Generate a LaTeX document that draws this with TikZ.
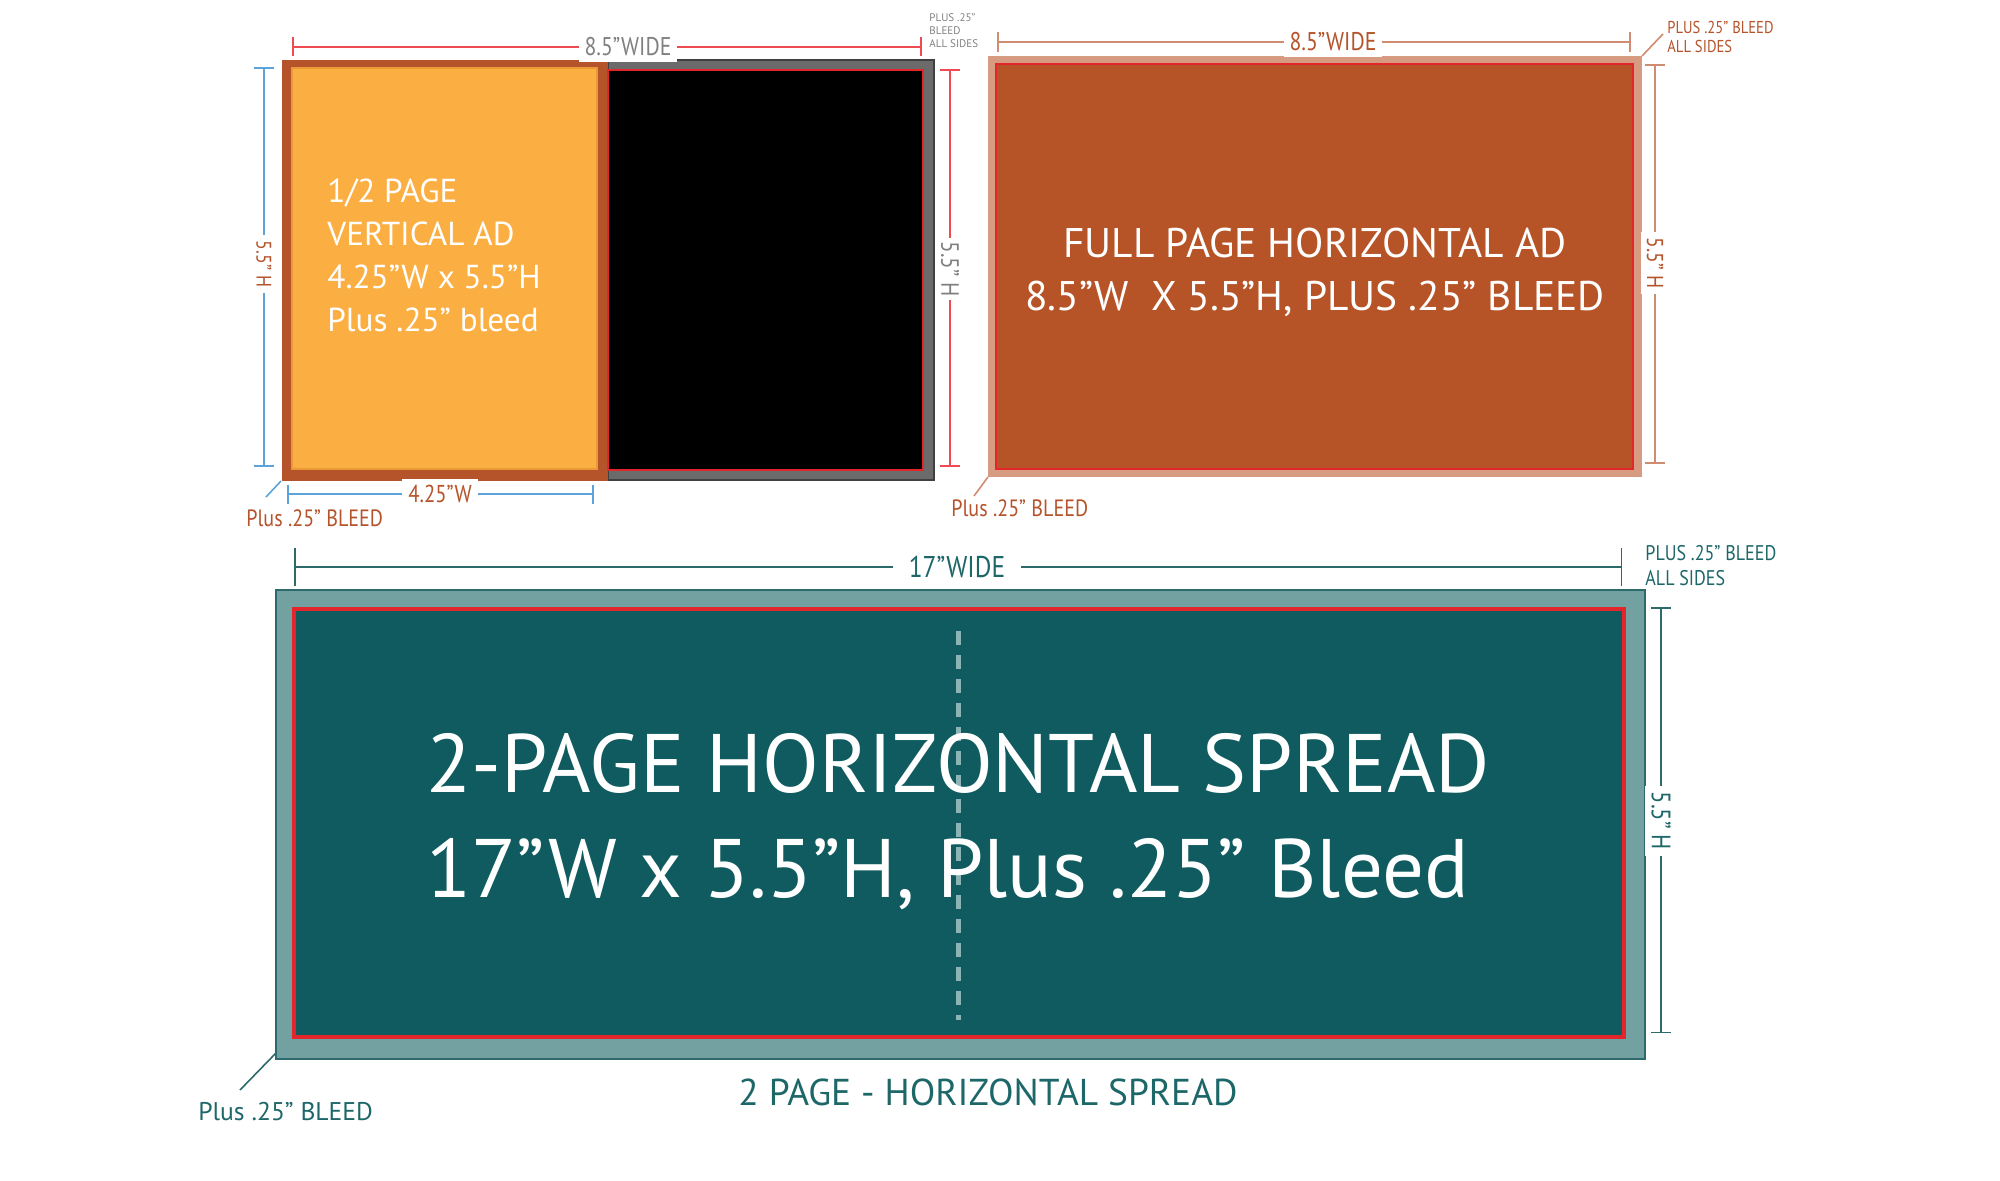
\documentclass[tikz,border=0pt]{standalone}
\usepackage{fontspec}
\setmainfont{PT Sans}
\newfontfamily\narrowfont{PT Sans}[FakeStretch=0.85]
\usetikzlibrary{arrows.meta}
\definecolor{adbrown}{HTML}{B5532A}
\definecolor{adorange}{HTML}{FBAF43}
\definecolor{adorangeedge}{HTML}{E99A36}
\definecolor{adgray}{HTML}{6B6B6B}
\definecolor{adred}{HTML}{E3262C}
\definecolor{dimred}{HTML}{EE4B52}
\definecolor{dimblue}{HTML}{5BA3D9}
\definecolor{graytext}{HTML}{808080}
\definecolor{salmon}{HTML}{D69B81}
\definecolor{salmonline}{HTML}{D08C70}
\definecolor{fullfill}{HTML}{B65327}
\definecolor{tealout}{HTML}{73A1A1}
\definecolor{tealedge}{HTML}{2C6A6C}
\definecolor{tealin}{HTML}{0F5B5F}
\definecolor{tealtext}{HTML}{1E6769}
\definecolor{dashteal}{HTML}{8CB4B4}
\tikzset{
  dimtick/.style={line width=1pt,{Bar[width=#1]}-{Bar[width=#1]}},
  dimtick/.default=10pt,
  dimtext/.style={fill=white,inner sep=3pt,font=\narrowfont\fontsize{#1}{#1}\selectfont},
  dimtext/.default=12,
  sidelabel/.style={anchor=west,align=left,inner sep=0pt},
  adtext/.style={text=white,inner sep=0pt}
}
\begin{document}
\begin{tikzpicture}[x=0.5pt,y=-0.5pt,line join=miter]
\useasboundingbox (0,0) rectangle (2000,1181);
% half page vertical ad
\filldraw[fill=adgray,draw=black!75,line width=0.6pt] (608,60) rectangle (934,480);
\fill[adbrown] (282,60) rectangle (608,481);
\filldraw[fill=adorange,draw=adorangeedge,line width=0.8pt] (292,68) rectangle (597,469);
\filldraw[fill=black,draw=adred,line width=1pt] (608,70) rectangle (923,470);
\node[adtext,sidelabel,font=\fontsize{16.6}{21.5}\selectfont] (halftxt) at (327,255)
  {1/2 PAGE\\VERTICAL AD\\4.25”W x 5.5”H\\Plus .25” bleed};
\draw[dimtick=9.5pt,dimred] (292,47) -- (922,47);
\node[dimtext=12.8,text=graytext] (halfwide) at (628,47) {8.5”WIDE};
\node[sidelabel,text=graytext,font=\fontsize{5.5}{6.5}\selectfont] (halfall) at (929,31)
  {PLUS .25”\\BLEED\\ALL SIDES};
\draw[dimtick,dimblue] (264,67) -- (264,467);
\node[dimtext=10.5,text=adbrown,rotate=-90] (halfleft) at (264,264) {5.5” H};
\draw[dimtick,dimred] (950,69) -- (950,467);
\node[dimtext=12.5,text=graytext,rotate=-90,inner sep=2pt] (halfright) at (950,269) {5.5” H};
\draw[dimtick=9.5pt,dimblue] (287,494) -- (594,494);
\node[dimtext=12.2,text=adbrown] (halfw) at (440,494) {4.25”W};
\node[sidelabel,text=adbrown,font=\narrowfont\fontsize{11.8}{12}\selectfont] (halfbleed) at (246,518) {Plus .25” BLEED};
\coordinate (halfcorner) at (281,481);
\draw[dimblue,line width=0.8pt] (halfcorner) -- ++(-15,16);
% full page horizontal ad
\fill[salmon] (988,56) rectangle (1642,477);
\filldraw[fill=fullfill,draw=adred,line width=1pt] (996,64) rectangle (1633,469);
\node[adtext,align=center,font=\fontsize{20.7}{26.5}\selectfont] (fulltxt) at (1315,272)
  {FULL PAGE HORIZONTAL AD\\8.5”W\ \ X 5.5”H, PLUS .25” BLEED};
\draw[dimtick=10pt,salmonline] (997,42) -- (1631,42);
\node[dimtext=12.8,text=adbrown] (fullwide) at (1333,42) {8.5”WIDE};
\node[sidelabel,text=adbrown,font=\narrowfont\fontsize{8.6}{9.5}\selectfont] (fullall) at (1667,37)
  {PLUS .25” BLEED\\ALL SIDES};
\coordinate (fullcorner) at (1642,56);
\draw[salmonline,line width=0.8pt] (fullcorner) -- ++(21,-22);
\draw[dimtick,salmonline] (1655,64) -- (1655,464);
\node[dimtext=11.5,text=adbrown,rotate=-90] (fullright) at (1655,263) {5.5” H};
\node[sidelabel,text=adbrown,font=\narrowfont\fontsize{11.8}{12}\selectfont] (fullbleed) at (951,508) {Plus .25” BLEED};
\coordinate (fullbottom) at (988,477);
\draw[salmonline,line width=0.8pt] (fullbottom) -- ++(-14,19);
% 2 page horizontal spread
\filldraw[fill=tealout,draw=tealedge,line width=1pt] (276,590) rectangle (1645,1059);
\filldraw[fill=tealin,draw=adred,line width=1.6pt] (294,609) rectangle (1624,1037);
\draw[dashteal,line width=2.5pt,dash pattern=on 7pt off 5pt] (958,631) -- (958,1020);
\node[adtext,sidelabel,font=\fontsize{41.5}{52.5}\selectfont] (spreadtxt) at (426,822)
  {2-PAGE HORIZONTAL SPREAD\\17”W x 5.5”H, Plus .25” Bleed};
\draw[dimtick=19pt,tealedge,line width=0.75pt] (294,567) -- (1622,567);
\node[dimtext=15,text=tealtext,inner xsep=8pt] (spreadwide) at (957,567) {17”WIDE};
\node[sidelabel,text=tealtext,font=\narrowfont\fontsize{10.6}{12.5}\selectfont] (spreadall) at (1645,566)
  {PLUS .25” BLEED\\ALL SIDES};
\draw[dimtick,tealedge,line width=0.75pt] (1661,607) -- (1661,1033);
\node[dimtext=13.3,text=tealtext,rotate=-90] (spreadright) at (1661,821) {5.5” H};
\node[text=tealtext,inner sep=0pt,font=\fontsize{18.7}{20}\selectfont] (spreadcap) at (988,1092)
  {2 PAGE - HORIZONTAL SPREAD};
\node[sidelabel,text=tealtext,font=\fontsize{12.8}{14}\selectfont] (spreadbleed) at (198,1112) {Plus .25” BLEED};
\coordinate (spreadcorner) at (276,1053);
\draw[tealedge,line width=0.8pt] (spreadcorner) -- ++(-36,37);
\end{tikzpicture}
\end{document}
